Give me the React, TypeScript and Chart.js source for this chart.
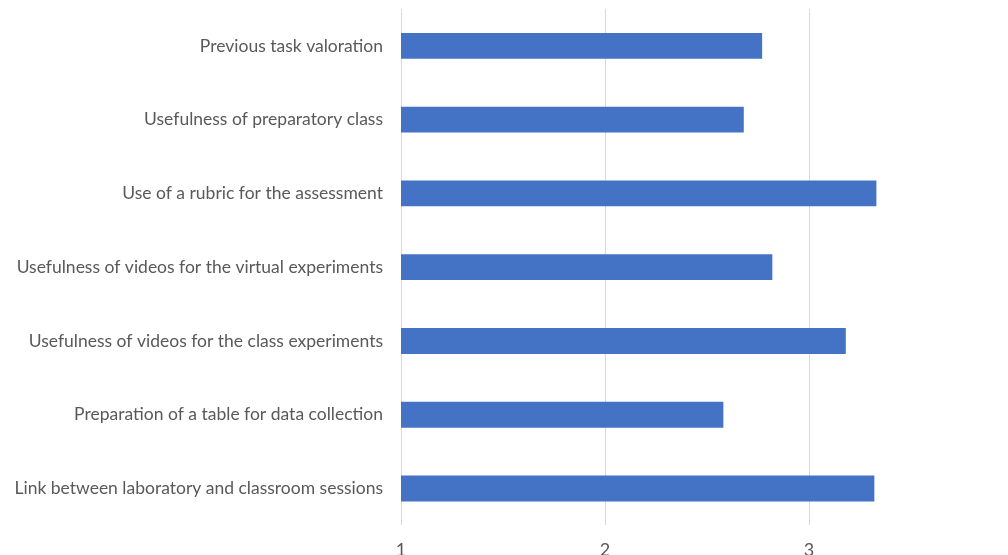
import React, { useEffect, useRef } from "react";
import { Chart, registerables } from "chart.js";

Chart.register(...registerables);

const categories = [
  "Previous task valoration",
  "Usefulness of preparatory class",
  "Use of a rubric for the assessment",
  "Usefulness of videos for the virtual experiments",
  "Usefulness of videos for the class experiments",
  "Preparation of a table for data collection",
  "Link between laboratory and classroom sessions",
];

const values = [2.77, 2.68, 3.33, 2.82, 3.18, 2.58, 3.32];

const xTickValues = [1, 2, 3];

export default function App() {
  const ref = useRef<HTMLCanvasElement | null>(null);

  useEffect(() => {
    if (!ref.current) return;
    const chart = new Chart(ref.current, {
      type: "bar",
      data: {
        labels: categories,
        datasets: [
          {
            data: values,
            backgroundColor: "#4472C4",
            borderWidth: 0,
            categoryPercentage: 1,
            barPercentage: 0.35,
          },
        ],
      },
      options: {
        indexAxis: "y",
        animation: false,
        responsive: false,
        maintainAspectRatio: false,
        layout: { padding: { top: 9, right: 0, left: 0, bottom: 0 } },
        plugins: {
          legend: { display: false },
          tooltip: { enabled: false },
        },
        scales: {
          x: {
            min: 1,
            max: 3.975,
            afterBuildTicks: (scale: any) => {
              scale.ticks = xTickValues.map((v) => ({ value: v }));
            },
            grid: {
              color: "#d9d9d9",
              lineWidth: 1,
              drawTicks: false,
            },
            border: { display: false },
            ticks: {
              color: "#595959",
              padding: 14,
              font: { family: "Lato", size: 18 },
            },
          },
          y: {
            grid: { display: false, drawTicks: false },
            border: { display: false },
            afterFit: (scale: any) => {
              scale.width = 401;
              scale.paddingTop = 0;
              scale.paddingBottom = 0;
            },
            ticks: {
              color: "#595959",
              padding: 18,
              font: { family: "Lato", size: 17.5 },
            },
          },
        },
      },
    });
    return () => chart.destroy();
  }, []);

  return (
    <div
      style={{
        position: "absolute",
        left: 0,
        top: 0,
        width: 1008,
        height: 555,
        overflow: "hidden",
        background: "#fff",
      }}
    >
      <canvas ref={ref} width={1008} height={575} style={{ display: "block" }} />
    </div>
  );
}
